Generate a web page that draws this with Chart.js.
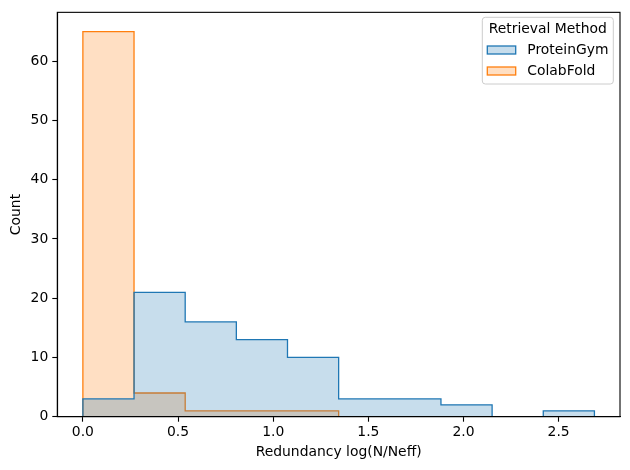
<!DOCTYPE html>
<html>
<head>
<meta charset="utf-8">
<script src="https://cdn.jsdelivr.net/npm/chart.js@4"></script>
<style>
  html, body { margin: 0; padding: 0; background: #fff; }
  #wrap { width: 630px; height: 470px; }
</style>
</head>
<body>
<div id="wrap"><canvas id="c" width="630" height="470"></canvas></div>
<script>
// ---- data ----
const binEdges = [0, 0.2688, 0.5376, 0.8064, 1.0752, 1.344, 1.6128, 1.8816, 2.1504, 2.4192, 2.688];
const proteinGymCounts = [3, 21, 16, 13, 10, 3, 3, 2, 0, 1];
const colabFoldCounts = [65, 4, 1, 1, 1, 0, 0, 0, 0, 0];
const seriesNames = ["ProteinGym", "ColabFold"];
const legendTitle = "Retrieval Method";
const xTicks = [0, 0.5, 1.0, 1.5, 2.0, 2.5];
const yTicks = [0, 10, 20, 30, 40, 50, 60];
const xLabel = "Redundancy log(N/Neff)";
const yLabel = "Count";

// build step outline from bins
function stepPoints(edges, counts) {
  const pts = [{x: edges[0], y: 0}];
  for (let i = 0; i < counts.length; i++) {
    pts.push({x: edges[i], y: counts[i]});
    pts.push({x: edges[i + 1], y: counts[i]});
  }
  pts.push({x: edges[edges.length - 1], y: 0});
  return pts;
}

const FONT = "'DejaVu Sans', sans-serif";
const FS = 13.9;
const blue = '#1f77b4', orange = '#ff7f0e';
const blueFill = 'rgba(31,119,180,0.25)', orangeFill = 'rgba(255,127,14,0.25)';

const xSpan = binEdges[binEdges.length - 1] - binEdges[0];
const yMaxData = Math.max(...proteinGymCounts, ...colabFoldCounts);

const framePlugin = {
  id: 'frame',
  afterDraw(chart) {
    const {ctx, chartArea: a} = chart;
    ctx.save();
    ctx.strokeStyle = '#000';
    ctx.lineWidth = 1.1;
    ctx.strokeRect(a.left, a.top, a.right - a.left, a.bottom - a.top);
    ctx.restore();

    // legend inside axes, upper right
    const ds = chart.data.datasets;
    ctx.save();
    const bx = 482.3, by = 17.3, bw = 131, bh = 66.7, r = 3;
    ctx.beginPath();
    ctx.moveTo(bx + r, by);
    ctx.arcTo(bx + bw, by, bx + bw, by + bh, r);
    ctx.arcTo(bx + bw, by + bh, bx, by + bh, r);
    ctx.arcTo(bx, by + bh, bx, by, r);
    ctx.arcTo(bx, by, bx + bw, by, r);
    ctx.closePath();
    ctx.fillStyle = 'rgba(255,255,255,0.8)';
    ctx.fill();
    ctx.strokeStyle = '#cccccc';
    ctx.lineWidth = 1;
    ctx.stroke();
    ctx.font = FS + 'px ' + FONT;
    ctx.fillStyle = '#000';
    ctx.textBaseline = 'middle';
    ctx.textAlign = 'center';
    ctx.fillText(legendTitle, bx + bw / 2, 29);
    ctx.textAlign = 'left';
    const rows = [50, 71];
    ds.forEach((d, i) => {
      const cy = rows[i];
      ctx.fillStyle = '#fff';
      ctx.fillRect(487.3, cy - 4, 28.4, 8);
      ctx.fillStyle = d.backgroundColor;
      ctx.fillRect(487.3, cy - 4, 28.4, 8);
      ctx.strokeStyle = d.borderColor;
      ctx.lineWidth = 1.3;
      ctx.strokeRect(487.3, cy - 4, 28.4, 8);
      ctx.fillStyle = '#000';
      ctx.fillText(d.label, 527.3, cy);
    });
    ctx.restore();
  }
};

new Chart(document.getElementById('c'), {
  type: 'line',
  data: {
    datasets: [
      {
        label: seriesNames[0],
        data: stepPoints(binEdges, proteinGymCounts),
        borderColor: blue,
        backgroundColor: blueFill,
        borderWidth: 1.3,
        fill: 'origin',
        pointRadius: 0,
        tension: 0
      },
      {
        label: seriesNames[1],
        data: stepPoints(binEdges, colabFoldCounts),
        borderColor: orange,
        backgroundColor: orangeFill,
        borderWidth: 1.3,
        fill: 'origin',
        pointRadius: 0,
        tension: 0
      }
    ]
  },
  options: {
    responsive: false,
    animation: false,
    devicePixelRatio: 1,
    layout: { padding: { left: 0, top: 10.7, right: 10, bottom: 0 } },
    plugins: {
      legend: { display: false },
      tooltip: { enabled: false }
    },
    scales: {
      x: {
        type: 'linear',
        min: binEdges[0] - 0.05 * xSpan,
        max: binEdges[binEdges.length - 1] + 0.05 * xSpan,
        afterFit(s) { s.height = 53.3; },
        afterBuildTicks(s) { s.ticks = xTicks.map(v => ({value: v})); },
        grid: { drawOnChartArea: false, drawTicks: true, tickLength: 5, color: '#000', tickWidth: 1.1 },
        border: { display: true, color: '#000', width: 1.1, z: 1 },
        ticks: {
          color: '#000',
          padding: 2.5,
          maxRotation: 0,
          autoSkip: false,
          font: { family: FONT, size: FS },
          callback: v => Number(v).toFixed(1)
        },
        title: {
          display: true, text: xLabel, color: '#000',
          font: { family: FONT, size: FS },
          padding: { top: 0, bottom: 9.7 }
        }
      },
      y: {
        type: 'linear',
        min: 0,
        max: yMaxData * 1.05,
        afterFit(s) { s.width = 57.3; },
        afterBuildTicks(s) { s.ticks = yTicks.map(v => ({value: v})); },
        grid: { drawOnChartArea: false, drawTicks: true, tickLength: 5, color: '#000', tickWidth: 1.1 },
        border: { display: true, color: '#000', width: 1.1, z: 1 },
        ticks: {
          color: '#000',
          padding: 4,
          autoSkip: false,
          font: { family: FONT, size: FS },
          callback: v => String(v)
        },
        title: {
          display: true, text: yLabel, color: '#000',
          font: { family: FONT, size: FS },
          padding: { top: 7.7, bottom: 0 }
        }
      }
    }
  },
  plugins: [framePlugin]
});
</script>
</body>
</html>
